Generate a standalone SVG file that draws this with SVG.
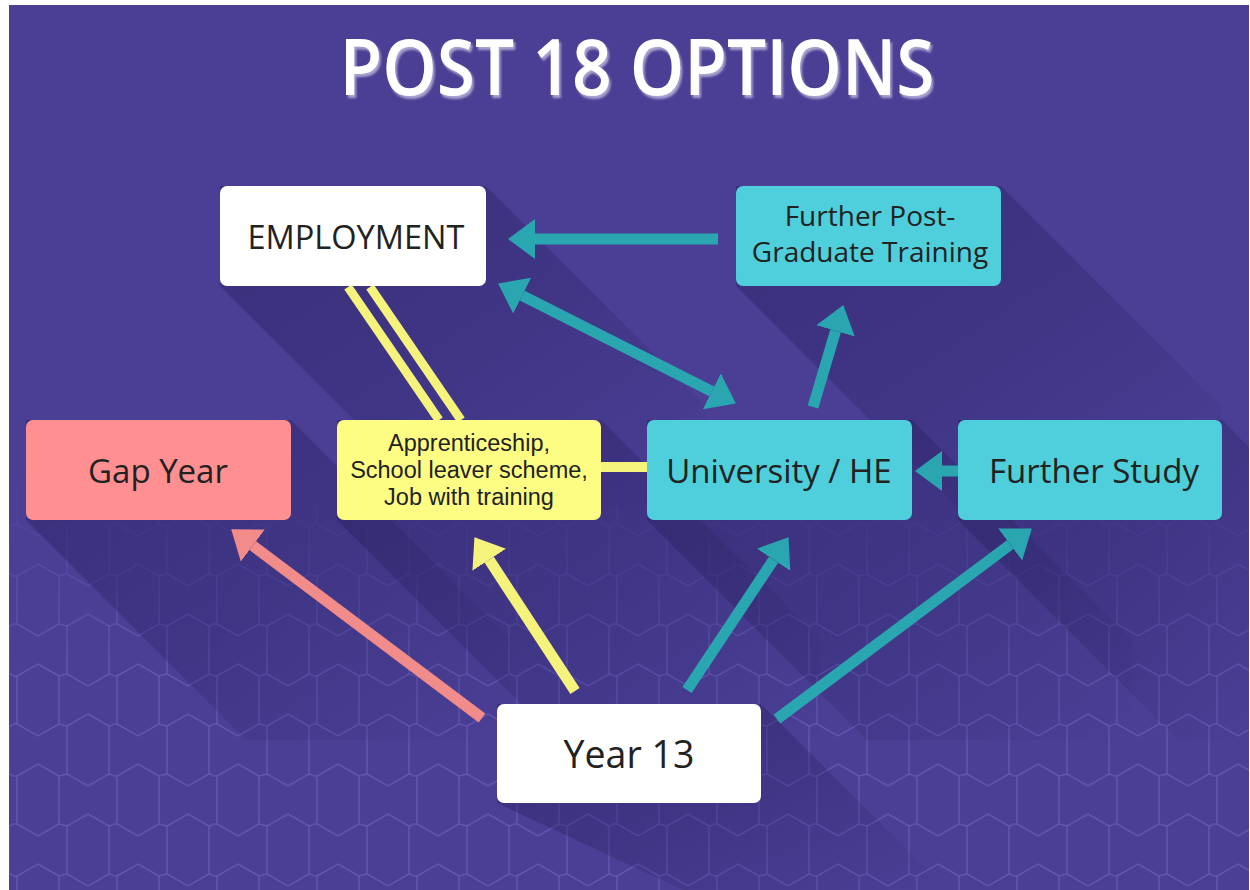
<svg xmlns="http://www.w3.org/2000/svg" width="1250" height="890" viewBox="0 0 1250 890">
<style>
.lbl{font-family:"Open Sans","Noto Sans",sans-serif;fill:#222;text-anchor:middle}
.lbl2{font-family:"Liberation Sans",Arial,sans-serif;fill:#222;text-anchor:middle}
.box{stroke:none}
.teal{stroke:#2aa6b1;stroke-width:11;fill:none}
.pink{stroke:#f28c8b;stroke-width:11;fill:none}
.yel{stroke:#f6f37c;stroke-width:11;fill:none}
.shadow{fill:url(#shGrad)}
</style>
<defs>
<filter id="tshadow" x="-5%" y="-20%" width="110%" height="150%">
<feDropShadow dx="2" dy="3" stdDeviation="1" flood-color="#a8a2cf" flood-opacity="1"/>
</filter>
<linearGradient id="shGrad" x1="0" y1="0" x2="1" y2="1">
<stop offset="0" stop-color="#2a2163" stop-opacity="0.55"/>
<stop offset="0.55" stop-color="#2a2163" stop-opacity="0.3"/>
<stop offset="1" stop-color="#2a2163" stop-opacity="0"/>
</linearGradient>
<pattern id="hex" width="100" height="100" patternUnits="userSpaceOnUse" x="13" y="0">
<g fill="none" stroke="#7a70d0" stroke-width="1.5">
<path d="M25,-36 L46,-24 L46,24 L25,36 L4,24 L4,-24 Z"/>
<path d="M25,64 L46,76 L46,124 L25,136 L4,124 L4,76 Z"/>
<path d="M75,14 L96,26 L96,74 L75,86 L54,74 L54,26 Z"/>
<path d="M46,24 L54,26 M46,76 L54,74 M96,26 L104,24 M96,74 L104,76 M-4,24 L4,24 M-4,76 L4,76"/>
</g>
</pattern>
<linearGradient id="fadeG" x1="0" y1="470" x2="0" y2="660" gradientUnits="userSpaceOnUse">
<stop offset="0" stop-color="#fff" stop-opacity="0"/>
<stop offset="1" stop-color="#fff" stop-opacity="1"/>
</linearGradient>
<mask id="fadeM" maskUnits="userSpaceOnUse" x="0" y="0" width="1250" height="890">
<rect x="0" y="0" width="1250" height="890" fill="url(#fadeG)"/>
</mask>
<marker id="mTeal" markerUnits="userSpaceOnUse" viewBox="0 -22 28 44" refX="0" refY="0" markerWidth="28" markerHeight="44" orient="auto-start-reverse">
<path d="M0,-20 L27,0 L0,20 Z" fill="#2aa6b1"/>
</marker>
<marker id="mPink" markerUnits="userSpaceOnUse" viewBox="0 -22 28 44" refX="0" refY="0" markerWidth="28" markerHeight="44" orient="auto">
<path d="M0,-20 L27,0 L0,20 Z" fill="#f28c8b"/>
</marker>
<marker id="mYel" markerUnits="userSpaceOnUse" viewBox="0 -22 28 44" refX="0" refY="0" markerWidth="28" markerHeight="44" orient="auto">
<path d="M0,-20 L27,0 L0,20 Z" fill="#f6f37c"/>
</marker>
</defs>

<rect x="0" y="0" width="1250" height="890" fill="#ffffff"/>
<rect x="9" y="5" width="1240" height="885" fill="#4a3f95"/>
<rect x="9" y="5" width="1240" height="885" fill="url(#hex)" opacity="0.45" mask="url(#fadeM)"/>

<g id="title">
<text x="637" y="95" font-family="'Open Sans','Noto Sans',sans-serif" font-weight="600" font-size="77" fill="#ffffff" text-anchor="middle" textLength="595" lengthAdjust="spacingAndGlyphs" filter="url(#tshadow)">POST 18 OPTIONS</text>
</g>

<g id="shadows">
<polygon class="shadow" points="220,186 486,186 706,406 706,506 440,506 220,286"/>
<polygon class="shadow" points="736,186 1001,186 1221,406 1221,506 956,506 736,286"/>
<polygon class="shadow" points="26,420 291,420 511,640 511,740 246,740 26,520"/>
<polygon class="shadow" points="337,420 601,420 821,640 821,740 557,740 337,520"/>
<polygon class="shadow" points="647,420 912,420 1132,640 1132,740 867,740 647,520"/>
<polygon class="shadow" points="958,420 1222,420 1249,447 1249,740 1178,740 958,520"/>
<polygon class="shadow" points="497,704 761,704 947,890 683,890 497,803"/>
</g>

<g id="connectors">
<line class="yel" x1="348" y1="287" x2="439" y2="420" style="stroke-width:9"/>
<line class="yel" x1="370" y1="287" x2="461" y2="420" style="stroke-width:9"/>
<line class="yel" x1="600" y1="467" x2="648" y2="467" style="stroke-width:10"/>
<line class="teal" x1="718" y1="239" x2="535" y2="239" marker-end="url(#mTeal)"/>
<line class="teal" x1="522.2" y1="295.7" x2="711.8" y2="391.3" marker-start="url(#mTeal)" marker-end="url(#mTeal)"/>
<line class="teal" x1="813" y1="407" x2="835.6" y2="330.9" marker-end="url(#mTeal)"/>
<line class="teal" x1="959" y1="471" x2="942" y2="471" marker-end="url(#mTeal)"/>
<line class="pink" x1="482" y1="718" x2="252.8" y2="545.6" marker-end="url(#mPink)"/>
<line class="yel" x1="575" y1="691" x2="489.2" y2="559.8" marker-end="url(#mYel)"/>
<line class="teal" x1="687" y1="690" x2="773.6" y2="559.7" marker-end="url(#mTeal)"/>
<line class="teal" x1="777" y1="719" x2="1010.2" y2="544.6" marker-end="url(#mTeal)"/>
</g>

<g id="employment">
<rect class="box" x="220" y="186" width="266" height="100" rx="7" fill="#ffffff"/>
<text class="lbl" x="356" y="249" font-size="32.5">EMPLOYMENT</text>
</g>
<g id="further-postgrad">
<rect class="box" x="736" y="186" width="265" height="100" rx="7" fill="#4ecfdb"/>
<text class="lbl" font-size="28"><tspan x="870" y="226">Further Post-</tspan><tspan x="870" y="262">Graduate Training</tspan></text>
</g>
<g id="gap-year">
<rect class="box" x="26" y="420" width="265" height="100" rx="7" fill="#ff8f90"/>
<text class="lbl" x="158" y="483" font-size="33">Gap Year</text>
</g>
<g id="apprenticeship">
<rect class="box" x="337" y="420" width="264" height="100" rx="7" fill="#fdfd84"/>
<text class="lbl2" font-size="23.5"><tspan x="469" y="451">Apprenticeship,</tspan><tspan x="469" y="478">School leaver scheme,</tspan><tspan x="469" y="505">Job with training</tspan></text>
</g>
<g id="university">
<rect class="box" x="647" y="420" width="265" height="100" rx="7" fill="#4ecfdb"/>
<text class="lbl" x="779" y="483" font-size="33">University / HE</text>
</g>
<g id="further-study">
<rect class="box" x="958" y="420" width="264" height="100" rx="7" fill="#4ecfdb"/>
<text class="lbl" x="1094" y="483" font-size="33">Further Study</text>
</g>
<g id="year13">
<rect class="box" x="497" y="704" width="264" height="99" rx="7" fill="#ffffff"/>
<text class="lbl" x="629" y="768" font-size="37.5">Year 13</text>
</g>
</svg>
